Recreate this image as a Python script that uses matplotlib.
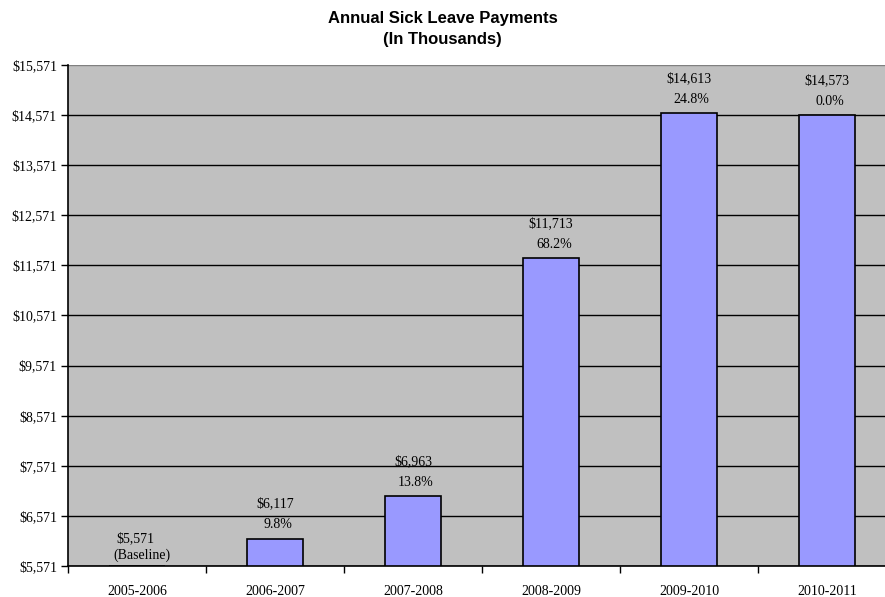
import numpy as np
import matplotlib
matplotlib.use('Agg')
import matplotlib.pyplot as plt
from matplotlib.ticker import FuncFormatter, FixedLocator


YEARS = ['2005-2006', '2006-2007', '2007-2008', '2008-2009', '2009-2010', '2010-2011']
PAYMENTS = [5571, 6117, 6963, 11713, 14613, 14573]
CHANGES = ['(Baseline)', '9.8%', '13.8%', '68.2%', '24.8%', '0.0%']
Y_TICKS = [5571, 6571, 7571, 8571, 9571, 10571, 11571, 12571, 13571, 14571, 15571]

BASE = 5571
SERIF = ['Liberation Serif', 'DejaVu Serif']

fig = plt.figure(figsize=(8.85, 5.97), dpi=100)
ax = fig.add_axes([68 / 885, 31 / 597, 828 / 885, 501 / 597])
ax.set_facecolor('#c0c0c0')

x = np.arange(len(YEARS))
heights = np.array(PAYMENTS) - BASE
bars = ax.bar(x, heights, bottom=BASE, width=0.4, color='#9999ff',
              edgecolor='black', linewidth=1.2, zorder=3)

ax.set_xlim(-0.5, len(YEARS) - 0.5)
ax.set_ylim(Y_TICKS[0], Y_TICKS[-1])

ax.yaxis.set_major_locator(FixedLocator(Y_TICKS))
ax.yaxis.set_major_formatter(FuncFormatter(lambda v, p: '${:,.0f}'.format(v)))
ax.grid(axis='y', color='black', linewidth=1.0, zorder=1)
ax.set_axisbelow(True)
ax.get_ygridlines()[-1].set_color('#808080')

# category labels in the middle, tick marks on the boundaries
ax.set_xticks(x)
ax.set_xticklabels(YEARS)
ax.tick_params(axis='x', which='major', length=0, pad=14)
ax.set_xticks(np.arange(len(YEARS) + 1) - 0.5, minor=True)
ax.tick_params(axis='x', which='minor', length=5, direction='out', width=1)
ax.tick_params(axis='y', length=5, direction='out', width=1, pad=3)

for lbl in ax.get_xticklabels() + ax.get_yticklabels():
    lbl.set_family(SERIF)
    lbl.set_fontsize(10)

for s in ['top', 'right']:
    ax.spines[s].set_visible(False)
ax.spines['left'].set_linewidth(1.2)
ax.spines['bottom'].set_linewidth(1.2)

for i, (val, chg) in enumerate(zip(PAYMENTS, CHANGES)):
    if i == 0:
        val_off, chg_off = (-1.5, 19.5), (3.5, 8)
    else:
        val_off, chg_off = (0, 25), (2, 10)
    ax.annotate('${:,.0f}'.format(val), (i, val), xytext=val_off,
                textcoords='offset points', ha='center', va='center',
                family=SERIF, fontsize=10)
    ax.annotate(chg, (i, val), xytext=chg_off,
                textcoords='offset points', ha='center', va='center',
                family=SERIF, fontsize=10)

fig.text(0.5, 1 - 29 / 597, 'Annual Sick Leave Payments\n(In Thousands)',
         ha='center', va='center', fontsize=12, fontweight='bold',
         family=['Liberation Sans', 'DejaVu Sans'], linespacing=1.45)

fig.savefig('out.png', dpi=100)
